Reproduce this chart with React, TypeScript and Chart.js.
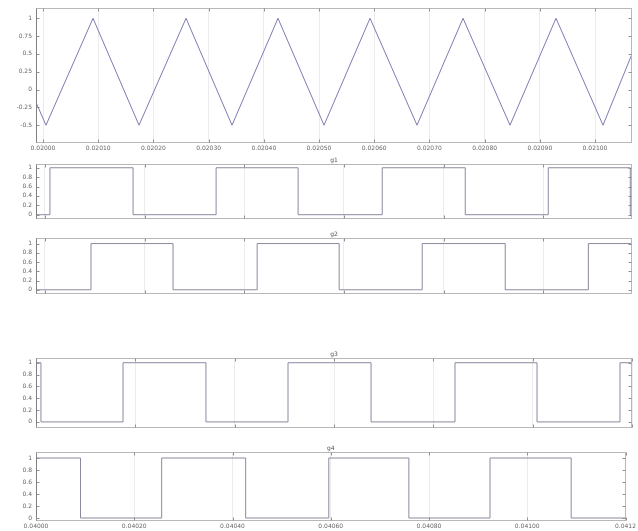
import React, { useEffect, useRef } from "react";
import { Chart, registerables } from "chart.js";

Chart.register(...registerables);

// ---------- data ----------
// top panel: carrier triangle (x in tick units, y value)
const TRI_X = [-0.127, 0.054, 0.906, 1.739, 2.591, 3.424, 4.257, 5.091, 5.924, 6.775, 7.609, 8.46, 9.293, 10.145, 10.67];
const TRI_Y = [-0.18, -0.5, 1.0, -0.5, 1.0, -0.5, 1.0, -0.5, 1.0, -0.5, 1.0, -0.5, 1.0, -0.5, 0.5];
const TOP_X_TICKS = [0, 1, 2, 3, 4, 5, 6, 7, 8, 9, 10];
const TOP_X_LABELS = ["0.02000", "0.02010", "0.02020", "0.02030", "0.02040", "0.02050", "0.02060", "0.02070", "0.02080", "0.02090", "0.02100"];
const TOP_Y_TICKS = [-0.5, -0.25, 0, 0.25, 0.5, 0.75, 1];

// gate signals: switching instants (tick units) and initial level
const G1_EDGES = [0.05, 0.884, 1.717, 2.54, 3.384, 4.217, 5.05, 5.873];
const G1_START = 0;
const G2_EDGES = [0.462, 1.285, 2.129, 2.952, 3.785, 4.618, 5.452];
const G2_START = 0;
const G3_EDGES = [0.05, 0.876, 1.711, 2.537, 3.373, 4.218, 5.044, 5.879];
const G3_START = 1;
const G4_EDGES = [0.453, 1.279, 2.134, 2.98, 3.795, 4.621, 5.447];
const G4_START = 1;

const MID_X_TICKS = [0, 1, 2, 3, 4, 5];
const BOT_X_TICKS = [0, 1, 2, 3, 4, 5, 6];
const BOT_X_LABELS = ["0.04000", "0.04020", "0.04040", "0.04060", "0.04080", "0.04100", "0.0412"];
const GATE_Y_TICKS = [0, 0.2, 0.4, 0.6, 0.8, 1];
const TITLES = ["g1", "g2", "g3", "g4"];

// ---------- helpers ----------
function stepPoints(edges: number[], start: number, min: number, max: number) {
  const pts = [{ x: min, y: start }];
  let lvl = start;
  for (const e of edges) {
    lvl = lvl ? 0 : 1;
    pts.push({ x: e, y: lvl });
  }
  pts.push({ x: max, y: lvl });
  return pts;
}

const FONT = { family: "DejaVu Sans", size: 6 };

const framePlugin = {
  id: "frame",
  afterDraw(chart: any, _args: any, opts: any) {
    const { ctx, chartArea: a } = chart;
    ctx.save();
    const l = Math.round(a.left) + 0.5;
    const t = Math.round(a.top) + 0.5;
    const r = Math.round(a.right) - 0.5;
    const b = Math.round(a.bottom) - 0.5;
    ctx.strokeStyle = "#b8b8b8";
    ctx.lineWidth = 1;
    ctx.strokeRect(l, t, r - l, b - t);
    ctx.strokeStyle = "#808080";
    ctx.beginPath();
    ctx.moveTo(l, t);
    ctx.lineTo(l, b);
    ctx.stroke();
    // inward tick marks
    ctx.strokeStyle = "#909090";
    const xs = chart.scales.x;
    ctx.beginPath();
    for (const tk of xs.ticks) {
      const px = Math.round(xs.getPixelForValue(tk.value)) + 0.5;
      ctx.moveTo(px, t);
      ctx.lineTo(px, t + 3);
      ctx.moveTo(px, b);
      ctx.lineTo(px, b - 3);
    }
    const ys = chart.scales.y;
    for (const tk of ys.ticks) {
      const py = Math.round(ys.getPixelForValue(tk.value)) + 0.5;
      ctx.moveTo(l, py);
      ctx.lineTo(l + 3, py);
      ctx.moveTo(r, py);
      ctx.lineTo(r - 3, py);
    }
    ctx.stroke();
    if (opts && opts.title) {
      ctx.fillStyle = "#555";
      ctx.font = "6px 'DejaVu Sans'";
      ctx.textAlign = "center";
      ctx.textBaseline = "bottom";
      ctx.fillText(opts.title, (a.left + a.right) / 2, a.top - 1);
    }
    ctx.restore();
  },
};

type PanelCfg = {
  top: number;
  height: number;
  padTop: number;
  xAxisH: number;
  data: { x: number; y: number }[];
  stepped: boolean;
  color: string;
  xMin: number;
  xMax: number;
  xTicks: number[];
  xLabels: string[] | null;
  yMin: number;
  yMax: number;
  yTicks: number[];
  title: string;
};

function Panel({ cfg }: { cfg: PanelCfg }) {
  const ref = useRef<HTMLCanvasElement>(null);
  useEffect(() => {
    if (!ref.current) return;
    const chart = new Chart(ref.current, {
      type: "line",
      data: {
        datasets: [
          {
            data: cfg.data,
            borderColor: cfg.color,
            borderWidth: 1,
            pointRadius: 0,
            stepped: cfg.stepped ? "before" : false,
            tension: 0,
            fill: false,
          } as any,
        ],
      },
      options: {
        animation: false,
        responsive: false,
        maintainAspectRatio: false,
        layout: { padding: { top: cfg.padTop, right: 6, left: 0, bottom: 0 } },
        plugins: {
          legend: { display: false },
          tooltip: { enabled: false },
          frame: { title: cfg.title },
        } as any,
        scales: {
          x: {
            type: "linear",
            min: cfg.xMin,
            max: cfg.xMax,
            border: { display: false },
            grid: { color: "#ececec", drawTicks: false } as any,
            afterBuildTicks: (s: any) => {
              s.ticks = cfg.xTicks.map((v) => ({ value: v }));
            },
            afterFit: (s: any) => {
              s.height = cfg.xAxisH;
            },
            ticks: {
              display: !!cfg.xLabels,
              font: FONT,
              color: "#666",
              padding: 2,
              maxRotation: 0,
              autoSkip: false,
              callback: (_v: any, i: number) => (cfg.xLabels ? cfg.xLabels[i] : ""),
            },
          },
          y: {
            type: "linear",
            min: cfg.yMin,
            max: cfg.yMax,
            border: { display: false },
            grid: { display: false, drawTicks: false },
            afterBuildTicks: (s: any) => {
              s.ticks = cfg.yTicks.map((v) => ({ value: v }));
            },
            afterFit: (s: any) => {
              s.width = 36;
            },
            ticks: {
              font: FONT,
              color: "#666",
              padding: 4,
              autoSkip: false,
              callback: (v: any) => String(Math.round(Number(v) * 100) / 100),
            },
          },
        },
      },
      plugins: [framePlugin as any],
    });
    return () => chart.destroy();
  }, [cfg]);
  return (
    <canvas
      ref={ref}
      width={638}
      height={cfg.height}
      style={{ position: "absolute", left: 0, top: cfg.top, width: 638, height: cfg.height }}
    />
  );
}

const TRI_DATA = TRI_X.map((x, i) => ({ x, y: TRI_Y[i] }));
const MID_MIN = -0.09;
const MID_MAX = 5.89;
const TRI_COLOR = "#7b7bb4";
const GATE_COLOR = "#8a8aa0";

const PANELS: PanelCfg[] = [
  {
    top: 0, height: 155, padTop: 5, xAxisH: 12, data: TRI_DATA, stepped: false, color: TRI_COLOR,
    xMin: -0.127, xMax: 10.67, xTicks: TOP_X_TICKS, xLabels: TOP_X_LABELS,
    yMin: -0.75, yMax: 1.15, yTicks: TOP_Y_TICKS, title: "",
  },
  {
    top: 150, height: 77, padTop: 14, xAxisH: 4, data: stepPoints(G1_EDGES, G1_START, MID_MIN, MID_MAX), stepped: true, color: GATE_COLOR,
    xMin: MID_MIN, xMax: MID_MAX, xTicks: MID_X_TICKS, xLabels: null,
    yMin: -0.1, yMax: 1.08, yTicks: GATE_Y_TICKS, title: TITLES[0],
  },
  {
    top: 226, height: 76, padTop: 12, xAxisH: 4, data: stepPoints(G2_EDGES, G2_START, MID_MIN, MID_MAX), stepped: true, color: GATE_COLOR,
    xMin: MID_MIN, xMax: MID_MAX, xTicks: MID_X_TICKS, xLabels: null,
    yMin: -0.1, yMax: 1.12, yTicks: GATE_Y_TICKS, title: TITLES[1],
  },
  {
    top: 340, height: 96, padTop: 18, xAxisH: 4, data: stepPoints(G3_EDGES, G3_START, 0, 6), stepped: true, color: GATE_COLOR,
    xMin: 0, xMax: 6, xTicks: BOT_X_TICKS, xLabels: null,
    yMin: -0.11, yMax: 1.08, yTicks: GATE_Y_TICKS, title: TITLES[2],
  },
  {
    top: 440, height: 91, padTop: 12, xAxisH: 10, data: stepPoints(G4_EDGES, G4_START, 0, 6), stepped: true, color: GATE_COLOR,
    xMin: 0, xMax: 6, xTicks: BOT_X_TICKS, xLabels: BOT_X_LABELS,
    yMin: -0.05, yMax: 1.1, yTicks: GATE_Y_TICKS, title: TITLES[3],
  },
];

export default function App() {
  return (
    <div style={{ position: "absolute", left: 0, top: 0, width: 638, height: 531, background: "#fff", overflow: "hidden" }}>
      {PANELS.map((p, i) => (
        <Panel key={i} cfg={p} />
      ))}
    </div>
  );
}
